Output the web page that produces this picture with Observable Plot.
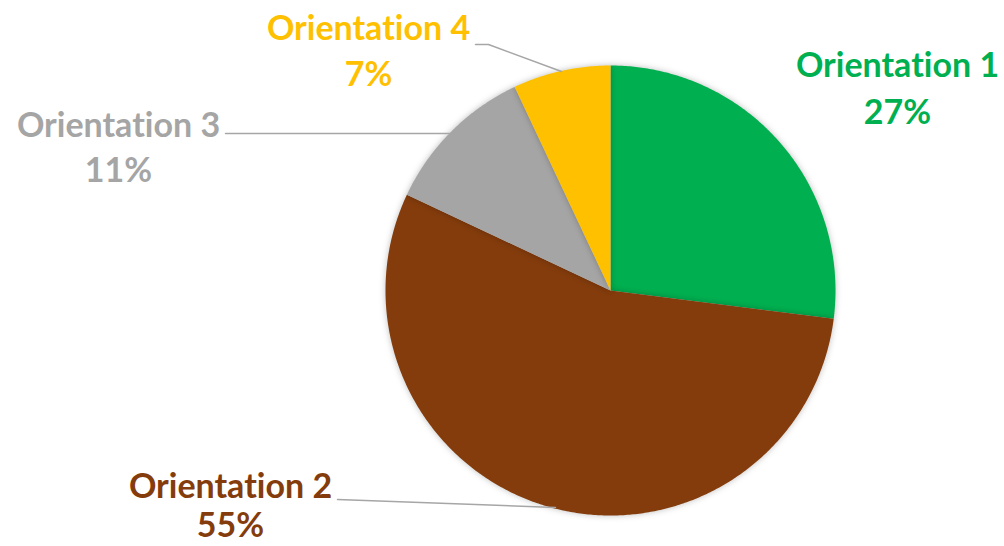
<!DOCTYPE html>
<html><head><meta charset="utf-8">
<script src="https://cdn.jsdelivr.net/npm/d3@7"></script>
<script src="https://cdn.jsdelivr.net/npm/@observablehq/plot@0.6"></script>
<style>body{margin:0;background:#fff} svg text{font-variant-ligatures:none;font-feature-settings:"liga" 0}</style>
</head><body><div id="chart"></div>
<script>
const categories = ["Orientation 1", "Orientation 2", "Orientation 3", "Orientation 4"];
const values = [27, 55, 11, 7];
const colors = ["#00B050", "#843C0C", "#A5A5A5", "#FFC000"];

// layout
const W = 1004, H = 546, cx = 610, cy = 290, R = 225;
const labelPos = [[897, 66, 113], [230, 487, 526], [118, 126, 171], [368, 29, 75]];
const leaders = [null, [[337, 499], [555, 507]], [[225, 133], [450, 133]], [[475, 44], [488, 44], [561, 71]]];

const total = d3.sum(values);
const slices = [];
let acc = 0;
values.forEach((v, i) => {
  const a0 = acc / total * 2 * Math.PI;
  acc += v;
  const a1 = acc / total * 2 * Math.PI;
  const pts = [{x: cx, y: cy}];
  const n = Math.max(2, Math.ceil((a1 - a0) / (Math.PI / 360)));
  for (let k = 0; k <= n; k++) {
    const a = a0 + (a1 - a0) * k / n;
    pts.push({x: cx + R * Math.sin(a), y: cy - R * Math.cos(a)});
  }
  slices.push({i, pts});
});

const labels = categories.map((c, i) => ({name: c, pct: values[i] + "%", x: labelPos[i][0], y: labelPos[i][1], y2: labelPos[i][2], color: colors[i]}));

const marks = [];
slices.forEach(s => marks.push(Plot.line(s.pts, {x: "x", y: "y", fill: colors[s.i], stroke: "none", curve: "linear-closed", className: "slice"})));
leaders.forEach(l => { if (l) marks.push(Plot.line(l.map(p => ({x: p[0], y: p[1]})), {x: "x", y: "y", stroke: "#A6A6A6", strokeWidth: 1.5})); });
labels.forEach(l => {
  marks.push(Plot.text([l], {x: "x", y: "y", text: "name", fill: l.color, fontSize: 34, fontWeight: "bold"}));
  marks.push(Plot.text([l], {x: "x", y: "y2", text: "pct", fill: l.color, fontSize: 34, fontWeight: "bold"}));
});

const chart = Plot.plot({
  width: W, height: H, margin: 0,
  x: {type: "identity", axis: null},
  y: {type: "identity", axis: null},
  style: {fontFamily: "Lato, 'Open Sans', sans-serif", background: "#fff"},
  marks
});
d3.select(chart).selectAll(".slice").style("filter", "drop-shadow(0px 0px 3px rgba(0,0,0,0.25))");
document.getElementById("chart").appendChild(chart);
</script></body></html>
